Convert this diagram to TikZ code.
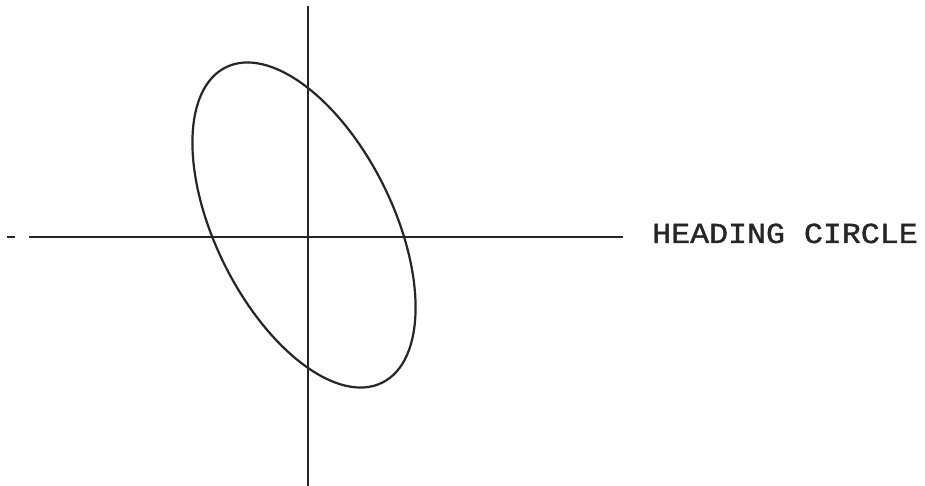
\documentclass[tikz,border=0pt]{standalone}
\usepackage{fontspec}
\newfontfamily\labelfont[FakeBold=1.2]{Liberation Mono}
\begin{document}
\begin{tikzpicture}[x=1pt,y=-1pt,
  axis/.style={line width=2.1pt,black!85},
  curve/.style={line width=2.2pt,black!85},
  lbl/.style={font=\labelfont\fontsize{29}{29}\selectfont,inner sep=0pt,anchor=base west,xscale=1.09,text=black!85}]
\useasboundingbox (0,0) rectangle (925,486);
\fill[white] (0,0) rectangle (925,486);
\coordinate (dl) at (7,237);
\coordinate (dr) at (15,237);
\coordinate (hl) at (29,237);
\coordinate (hr) at (623,237);
\coordinate (vt) at (308,6);
\coordinate (vb) at (308,486);
\coordinate (c) at (304,225);
\draw[axis] (dl) -- (dr);
\draw[axis] (hl) -- (hr);
\draw[axis] (vt) -- (vb);
\draw[curve] (c) ellipse [x radius=176pt, y radius=88.8pt, rotate=-63.6];
\node[lbl] (t) at (652,243) {HEADING CIRCLE};
\end{tikzpicture}
\end{document}
